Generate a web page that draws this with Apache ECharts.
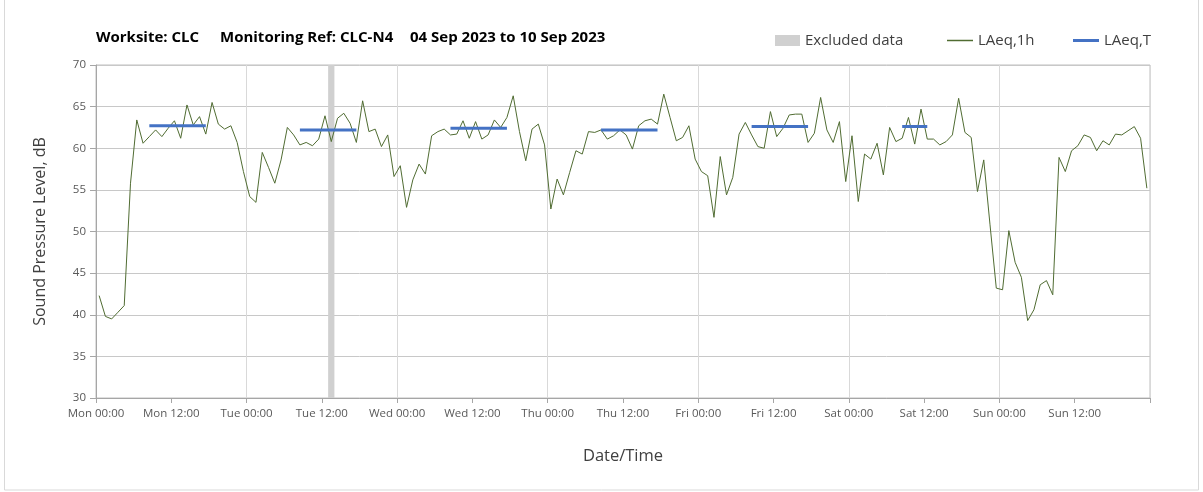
<!DOCTYPE html>
<html>
<head>
<meta charset="utf-8">
<title>Worksite: CLC – CLC-N4</title>
<script src="https://cdn.jsdelivr.net/npm/echarts@6/dist/echarts.min.js"></script>
<style>
  html, body { margin: 0; padding: 0; background: #ffffff; }
  #chart { width: 1203px; height: 492px; }
</style>
</head>
<body>
<div id="chart"></div>
<script>
// Hourly LAeq,1h levels (dB), Mon 04 Sep 00:00 to Sun 10 Sep 23:00
const hourlyLevels = [
  42.3, 39.8, 39.5, 40.3, 41.1, 55.8, 63.4, 60.6, 61.4, 62.2,
  61.4, 62.4, 63.3, 61.2, 65.2, 62.8, 63.8, 61.7, 65.5, 62.9,
  62.3, 62.7, 60.7, 57.2, 54.2, 53.5, 59.5, 57.7, 55.8, 58.6,
  62.5, 61.6, 60.4, 60.7, 60.3, 61.1, 63.9, 60.8, 63.6, 64.2,
  63.0, 60.7, 65.7, 62.0, 62.3, 60.2, 61.6, 56.6, 57.9, 52.9,
  56.2, 58.1, 56.9, 61.5, 62.0, 62.3, 61.6, 61.7, 63.3, 61.2,
  63.2, 61.1, 61.6, 63.4, 62.5, 63.7, 66.3, 62.0, 58.5, 62.3,
  62.9, 60.4, 52.7, 56.3, 54.4, 57.1, 59.7, 59.3, 62.0, 61.9,
  62.2, 61.1, 61.5, 62.2, 61.6, 59.9, 62.7, 63.3, 63.5, 62.9,
  66.5, 63.7, 60.9, 61.3, 62.7, 58.7, 57.2, 56.7, 51.7, 59.0,
  54.4, 56.5, 61.7, 63.1, 61.6, 60.2, 60.0, 64.4, 61.4, 62.4,
  64.0, 64.1, 64.1, 60.7, 61.8, 66.1, 62.2, 60.7, 63.2, 56.0,
  61.5, 53.6, 59.3, 58.7, 60.6, 56.8, 62.5, 60.8, 61.2, 63.7,
  60.5, 64.7, 61.1, 61.1, 60.4, 60.8, 61.6, 66.0, 61.9, 61.3,
  54.8, 58.6, 50.8, 43.2, 43.0, 50.1, 46.3, 44.5, 39.3, 40.6,
  43.6, 44.1, 42.4, 58.9, 57.2, 59.7, 60.3, 61.6, 61.3, 59.7,
  60.9, 60.4, 61.7, 61.6, 62.1, 62.6, 61.2, 55.2
];

// LAeq,T over each daytime assessment period (first and last hour index, level dB)
const periodFirstHour = [8, 32, 56, 80, 104, 128];
const periodLastHour  = [17, 41, 65, 89, 113, 132];
const periodLevel     = [62.7, 62.2, 62.4, 62.2, 62.6, 62.6];

// Excluded data windows (hours from Mon 00:00)
const excludedStart = [37];
const excludedEnd   = [38];

// X axis tick labels every 12 hours
const tickLabels = [
  'Mon 00:00', 'Mon 12:00', 'Tue 00:00', 'Tue 12:00', 'Wed 00:00', 'Wed 12:00',
  'Thu 00:00', 'Thu 12:00', 'Fri 00:00', 'Fri 12:00', 'Sat 00:00', 'Sat 12:00',
  'Sun 00:00', 'Sun 12:00'
];

const FONT = "'Open Sans', 'Noto Sans', sans-serif";
const TEXT = '#404040';
const AXIS = '#a6a6a6';
const GREEN = '#506c32';
const BLUE = '#4472c4';

// each hourly value sits in the middle of its hour
const hourlyData = hourlyLevels.map((v, i) => [i + 0.5, v]);

const periodSeries = periodLevel.map((lvl, p) => ({
  name: 'LAeq,T',
  type: 'line',
  symbol: 'none',
  z: 4,
  lineStyle: { color: BLUE, width: 3 },
  itemStyle: { color: BLUE },
  data: [[periodFirstHour[p] + 0.5, lvl], [periodLastHour[p] + 0.5, lvl]]
}));

const titleStyle = { fontFamily: FONT, fontSize: 15, fontWeight: 'bold', color: '#000000' };
const legendText = { fontFamily: FONT, fontSize: 15, color: TEXT };

const chart = echarts.init(document.getElementById('chart'), null, { renderer: 'canvas' });

chart.setOption({
  animation: false,
  backgroundColor: '#ffffff',
  textStyle: { fontFamily: FONT },
  title: [
    { text: 'Worksite: CLC', left: 96, top: 30, padding: 0, textStyle: titleStyle },
    { text: 'Monitoring Ref: CLC-N4', left: 220, top: 30, padding: 0, textStyle: titleStyle },
    { text: '04 Sep 2023 to 10 Sep 2023', left: 410, top: 30, padding: 0, textStyle: titleStyle }
  ],
  legend: [
    { left: 775, top: 33, padding: 0, itemWidth: 25, itemHeight: 11,
      data: [{ name: 'Excluded data', icon: 'rect' }], textStyle: legendText },
    { left: 947, top: 33, padding: 0, itemWidth: 26, itemHeight: 1.5,
      data: [{ name: 'LAeq,1h', icon: 'rect' }], textStyle: legendText },
    { left: 1073, top: 33, padding: 0, itemWidth: 26, itemHeight: 3,
      data: [{ name: 'LAeq,T', icon: 'rect' }], textStyle: legendText }
  ],
  graphic: [
    { type: 'rect', silent: true, z: -10,
      shape: { x: 4.5, y: -2, width: 1194, height: 492 },
      style: { fill: 'none', stroke: '#d9d9d9', lineWidth: 1 } }
  ],
  grid: {
    left: 96, right: 53, top: 65, bottom: 94,
    show: true, borderColor: '#bfbfbf', borderWidth: 1, backgroundColor: 'transparent'
  },
  xAxis: [
    {
      type: 'value', min: 0, max: 168, interval: 12,
      name: 'Date/Time', nameLocation: 'middle', nameGap: 50,
      nameTextStyle: { fontFamily: FONT, fontSize: 16.5, color: TEXT },
      axisLine: { show: true, lineStyle: { color: AXIS } },
      axisTick: { show: true, length: 5, lineStyle: { color: AXIS } },
      axisLabel: {
        color: '#595959', fontFamily: FONT, fontSize: 11.5, margin: 10,
        formatter: v => tickLabels[Math.round(v / 12)] || ''
      },
      splitLine: { show: false }
    },
    {
      // day boundaries: vertical gridlines every 24 h
      type: 'value', min: 0, max: 168, interval: 24, position: 'top',
      axisLine: { show: false }, axisTick: { show: false }, axisLabel: { show: false },
      splitLine: { show: true, lineStyle: { color: '#d9d9d9', width: 1 } }
    }
  ],
  yAxis: {
    type: 'value', min: 30, max: 70, interval: 5,
    name: 'Sound Pressure Level, dB', nameLocation: 'middle', nameGap: 48, nameRotate: 90,
    nameTextStyle: { fontFamily: FONT, fontSize: 16, color: TEXT },
    axisLine: { show: true, lineStyle: { color: AXIS } },
    axisTick: { show: true, length: 6, lineStyle: { color: AXIS } },
    axisLabel: { color: '#595959', fontFamily: FONT, fontSize: 11.5, margin: 10 },
    splitLine: { show: true, lineStyle: { color: '#c8c8c8', width: 1 } }
  },
  series: [
    {
      name: 'Excluded data',
      type: 'line',
      z: 1,
      data: [],
      itemStyle: { color: '#d0d0d0' },
      lineStyle: { color: '#d0d0d0' },
      markArea: {
        silent: true,
        itemStyle: { color: '#d0d0d0' },
        data: excludedStart.map((s, i) => [{ xAxis: s }, { xAxis: excludedEnd[i] }])
      }
    },
    {
      name: 'LAeq,1h',
      type: 'line',
      symbol: 'none',
      z: 3,
      lineStyle: { color: GREEN, width: 1 },
      itemStyle: { color: GREEN },
      data: hourlyData
    },
    ...periodSeries
  ]
});
</script>
</body>
</html>
